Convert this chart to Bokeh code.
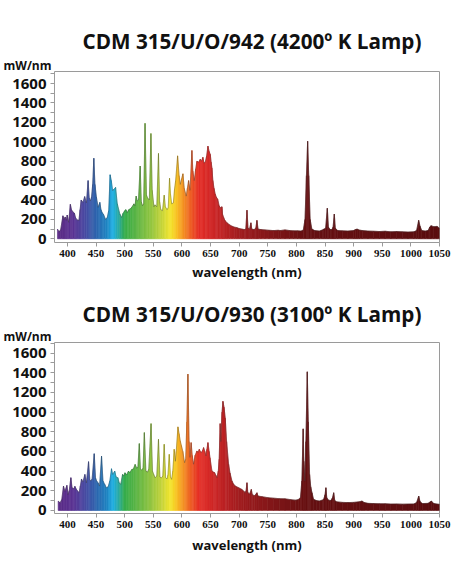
import numpy as np
from bokeh.plotting import figure
from bokeh.layouts import column
from bokeh.models import Range1d, FixedTicker, Title, ColumnDataSource
from bokeh.embed import file_html
from bokeh.resources import INLINE

# ---------------- data ----------------
TITLE_942 = "CDM 315/U/O/942 (4200º K Lamp)"
TITLE_930 = "CDM 315/U/O/930 (3100º K Lamp)"
Y_UNIT = "mW/nm"
X_LABEL = "wavelength (nm)"
X_TICKS = [400, 450, 500, 550, 600, 650, 700, 750, 800, 850, 900, 950, 1000, 1050]
Y_TICKS = [0, 200, 400, 600, 800, 1000, 1200, 1400, 1600]
Y_MINOR = [100, 300, 500, 700, 900, 1100, 1300, 1500, 1700]

WL_942 = [382.5, 385, 388, 392, 394, 396, 398, 399.5, 402, 405, 407, 409, 412, 414, 416.5, 420,
          422, 424, 427, 430, 433, 436, 438, 440, 442, 444, 446, 448, 450.5, 453.5, 456.5, 458.5,
          460.5, 463, 466.5, 469.5, 472, 474.5, 476.5, 479, 481, 484, 487, 491.5, 494.5, 497, 500,
          502, 504.5, 507, 510, 513, 516, 518, 520, 522, 524, 527, 529, 531, 533, 535.5, 538, 540,
          543, 545.8, 548, 551, 553, 556, 559, 561, 563, 566, 569, 571, 574, 576, 578.3, 580, 582,
          585, 587, 589, 592.4, 595, 597, 599.5, 601.7, 604, 607.5, 609.5, 611.6, 614, 617.4, 619,
          621.5, 624, 626.2, 629, 632, 634, 636.6, 638.5, 640.7, 643, 645.4, 647.5, 649.5, 651,
          652.4, 654, 656, 658.2, 660, 662.3, 665, 667, 669.9, 671, 672.8, 675, 678.6, 683, 687.4,
          692, 696, 700, 704.8, 709, 711.5, 713.6, 715.5, 718, 720.5, 722, 726, 729, 731, 733, 738,
          745, 752, 760, 768, 772, 780, 788, 795, 802, 808, 812, 815, 817.5, 819.6, 821.5, 824, 827,
          832, 840, 845, 848, 851, 854, 856, 859, 862, 864, 866.2, 868, 872, 880, 890, 900, 903,
          906, 910, 915, 925, 935, 945, 955, 965, 975, 985, 995, 1005, 1010, 1013.6, 1016, 1019,
          1025, 1030, 1033, 1035, 1040, 1045.7, 1050]
MW_942 = [100, 75, 90, 237, 200, 225, 190, 245, 170, 355, 300, 280, 265, 220, 195, 190,
          300, 400, 375, 435, 370, 600, 420, 390, 430, 560, 830, 560, 430, 325, 375, 300,
          270, 250, 200, 220, 290, 660, 600, 495, 510, 530, 360, 255, 220, 260, 290,
          300, 270, 300, 310, 330, 360, 340, 440, 390, 400, 750, 380, 340, 360, 1190, 450, 420,
          400, 1085, 500, 330, 350, 330, 880, 380, 300, 290, 450, 330, 300, 320, 625, 460, 360,
          370, 510, 600, 855, 650, 560, 620, 670, 520, 440, 520, 600, 500, 910, 700,
          600, 720, 800, 790, 820, 800, 840, 780, 790, 850, 955, 900, 870, 790,
          730, 600, 520, 460, 430, 410, 340, 320, 330, 250, 220, 190, 165, 145, 130,
          120, 115, 105, 100, 95, 100, 295, 110, 100, 165, 100, 95, 110, 190, 100, 95,
          92, 88, 85, 88, 85, 92, 85, 82, 82, 80, 90, 200, 650, 1005, 650, 200, 100,
          85, 80, 90, 100, 110, 315, 120, 95, 95, 120, 255, 110, 85, 82, 80, 85, 95,
          100, 90, 85, 80, 78, 75, 78, 72, 75, 72, 70, 72, 85, 190, 130, 85,
          80, 85, 120, 135, 125, 128, 110]

WL_930 = [383.7, 387, 390, 393, 395.5, 398.9, 401, 403, 405.9, 408, 411, 412.9, 416, 420.4, 422.5,
          424.5, 427, 430.4, 433, 436.8, 439, 441, 443, 446.7, 449, 451, 453.5, 456, 459.5, 462,
          465, 468, 471, 474, 476.9, 479, 482.5, 485, 488, 490.3, 493, 496.2, 498, 500.5, 503,
          506.6, 509, 512.4, 515, 518.2, 521, 523, 525.5, 527.5, 530, 532, 534.3, 537, 540, 542,
          546, 548.5, 550.6, 553, 556, 559, 561.5, 564, 566.5, 569, 571.5, 574, 575.5, 577.8, 580,
          582, 584, 586.4, 588.5, 590, 593, 595, 597, 599, 601.5, 604.6, 606.5, 608.5, 610.4,
          612.5, 614, 616, 618, 620.3, 623, 626.2, 628, 630.3, 632, 633.7, 636, 637.8, 640, 641.9,
          643.5, 645.4, 647.5, 649, 652.4, 655, 657, 659, 661.1, 663.5, 665, 666.8, 668, 670,
          671.6, 673.5, 675.7, 678, 681.5, 684, 687.4, 690, 693.2, 699, 704.8, 708, 710.7, 712,
          713.6, 715, 718, 721.2, 723, 727, 731, 733, 740, 750, 760, 770, 780, 790, 798, 803, 807,
          809.5, 811.8, 813, 814.8, 816.5, 819, 820.8, 823, 825, 827.2, 830, 835, 840, 845, 847.6,
          850, 851.5, 853, 856, 860, 863, 865.1, 867, 870, 880, 890, 900, 905, 910, 914.6, 918,
          925, 935, 945, 955, 965, 975, 985, 995, 1005, 1010, 1013.7, 1016, 1020, 1030, 1035.8,
          1040, 1045.7, 1050]
MW_930 = [95, 78, 110, 248, 195, 255, 160, 200, 333, 230, 220, 245, 210, 180, 250,
          320, 290, 366, 280, 496, 310, 299, 320, 577, 330, 299, 280, 248, 553, 300,
          265, 230, 240, 300, 424, 366, 400, 340, 333, 282, 265, 366, 350, 383, 360,
          400, 385, 417, 420, 468, 430, 440, 680, 420, 410, 430, 792, 400, 390, 420,
          883, 400, 366, 333, 350, 724, 340, 330, 350, 673, 333, 320, 360, 571, 340,
          316, 400, 622, 500, 600, 850, 780, 707, 660, 600, 486, 520, 900, 1387,
          700, 540, 690, 560, 470, 560, 605, 590, 622, 600, 588, 610, 639, 600, 554,
          620, 690, 600, 536, 402, 390, 385, 360, 334, 400, 520, 883, 700, 1000,
          1110, 1050, 938, 700, 469, 380, 299, 270, 248, 231, 214, 195, 180, 200,
          282, 185, 165, 214, 160, 150, 180, 146, 140, 130, 125, 120, 118, 110, 105, 110, 130,
          300, 830, 500, 298, 700, 1410, 900, 367, 240, 180, 113, 100, 96, 105, 113,
          160, 231, 130, 105, 100, 130, 180, 100, 88, 82, 80, 82, 85, 88, 96, 82,
          72, 70, 68, 68, 65, 66, 64, 65, 66, 80, 146, 90, 70, 72, 96,
          70, 65, 62]

# colour stops of the spectrum fill (style)
STOP_WL = [380, 410, 430, 450, 470, 480, 490, 500, 520, 545, 565, 580, 590, 600, 615, 630,
           660, 700, 760, 820, 1050]
STOP_HEX = ["#5a2a84", "#5b3393", "#4a4aa2", "#2e64ad", "#1f86c4", "#1eb0e4", "#2aa9a0",
            "#35ad4a", "#5bb445", "#8fc441", "#c6d43a", "#f2e52c", "#f8c621", "#f59c22",
            "#ee6024", "#e52e26", "#c92526", "#a11d1f", "#7f1517", "#661012", "#5a0d0f"]


def wl_color(w):
    rgb = np.array([[int(h[i:i + 2], 16) for i in (1, 3, 5)] for h in STOP_HEX], dtype=float)
    c = [int(round(np.interp(w, STOP_WL, rgb[:, k]))) for k in range(3)]
    return "#%02x%02x%02x" % tuple(c)


AXIS_GREY = "#9a9a9a"
TEXT = "#111111"


def make_chart(title, wl, mw, y_lo, y_hi, height, top, bottom, title_standoff, xlabel_standoff):
    p = figure(width=452, height=height, output_backend="svg", toolbar_location=None,
               x_range=Range1d(377.3, 1050), y_range=Range1d(y_lo, y_hi),
               min_border_left=54, min_border_right=13, min_border_top=top,
               min_border_bottom=bottom, title=None)

    # unit caption just above the frame (closest panel), then the main title above it
    p.add_layout(Title(text=Y_UNIT, align="left", offset=-51, standoff=-5,
                       text_font="Open Sans", text_font_size="12px", text_font_style="bold",
                       text_color=TEXT), "above")
    p.add_layout(Title(text=title, align="left", offset=28, standoff=title_standoff,
                       text_font="Open Sans", text_font_size="20.7px", text_font_style="bold",
                       text_color=TEXT), "above")

    wl = np.asarray(wl, dtype=float)
    mw = np.asarray(mw, dtype=float)
    xs, ys, cols = [], [], []
    for i in range(len(wl) - 1):
        xs.append([wl[i], wl[i + 1], wl[i + 1], wl[i]])
        ys.append([0.0, 0.0, mw[i + 1], mw[i]])
        cols.append(wl_color(0.5 * (wl[i] + wl[i + 1])))
    src = ColumnDataSource(dict(xs=xs, ys=ys, c=cols))
    p.patches("xs", "ys", source=src, fill_color="c", line_color="c", line_width=0.6)
    p.line(wl, mw, line_color="#3a3a3a", line_width=0.6, line_alpha=0.55)

    p.xgrid.grid_line_color = None
    p.ygrid.grid_line_color = None
    p.outline_line_color = AXIS_GREY
    p.outline_line_width = 1
    p.background_fill_color = "white"
    p.border_fill_color = "white"

    xa = p.xaxis[0]
    xa.ticker = FixedTicker(ticks=X_TICKS)
    xa.axis_line_color = None
    xa.major_tick_line_color = AXIS_GREY
    xa.major_tick_out = 4
    xa.major_tick_in = 0
    xa.minor_tick_line_color = None
    xa.major_label_standoff = 3
    xa.major_label_text_font = "Liberation Sans Narrow"
    xa.major_label_text_font_size = "11px"
    xa.major_label_text_font_style = "bold"
    xa.major_label_text_color = TEXT
    xa.axis_label = X_LABEL
    xa.axis_label_text_font = "Open Sans"
    xa.axis_label_text_font_size = "13px"
    xa.axis_label_text_font_style = "bold"
    xa.axis_label_text_color = TEXT
    xa.axis_label_standoff = xlabel_standoff

    ya = p.yaxis[0]
    ya.ticker = FixedTicker(ticks=Y_TICKS, minor_ticks=Y_MINOR)
    ya.axis_line_color = None
    ya.major_tick_line_color = AXIS_GREY
    ya.minor_tick_line_color = AXIS_GREY
    ya.major_tick_out = 4
    ya.major_tick_in = 0
    ya.minor_tick_out = 4
    ya.minor_tick_in = 0
    ya.major_label_standoff = 4
    ya.major_label_text_font = "Open Sans"
    ya.major_label_text_font_size = "15px"
    ya.major_label_text_font_style = "bold"
    ya.major_label_text_color = TEXT
    return p


p1 = make_chart(TITLE_942, WL_942, MW_942, -38, 1724, 290, 71, 48, 6, 3)
p2 = make_chart(TITLE_930, WL_930, MW_930, -31, 1708, 273, 52, 50, 1, 5)

layout = column(p1, p2, spacing=0)
open("out.html", "w").write(file_html(layout, INLINE))
